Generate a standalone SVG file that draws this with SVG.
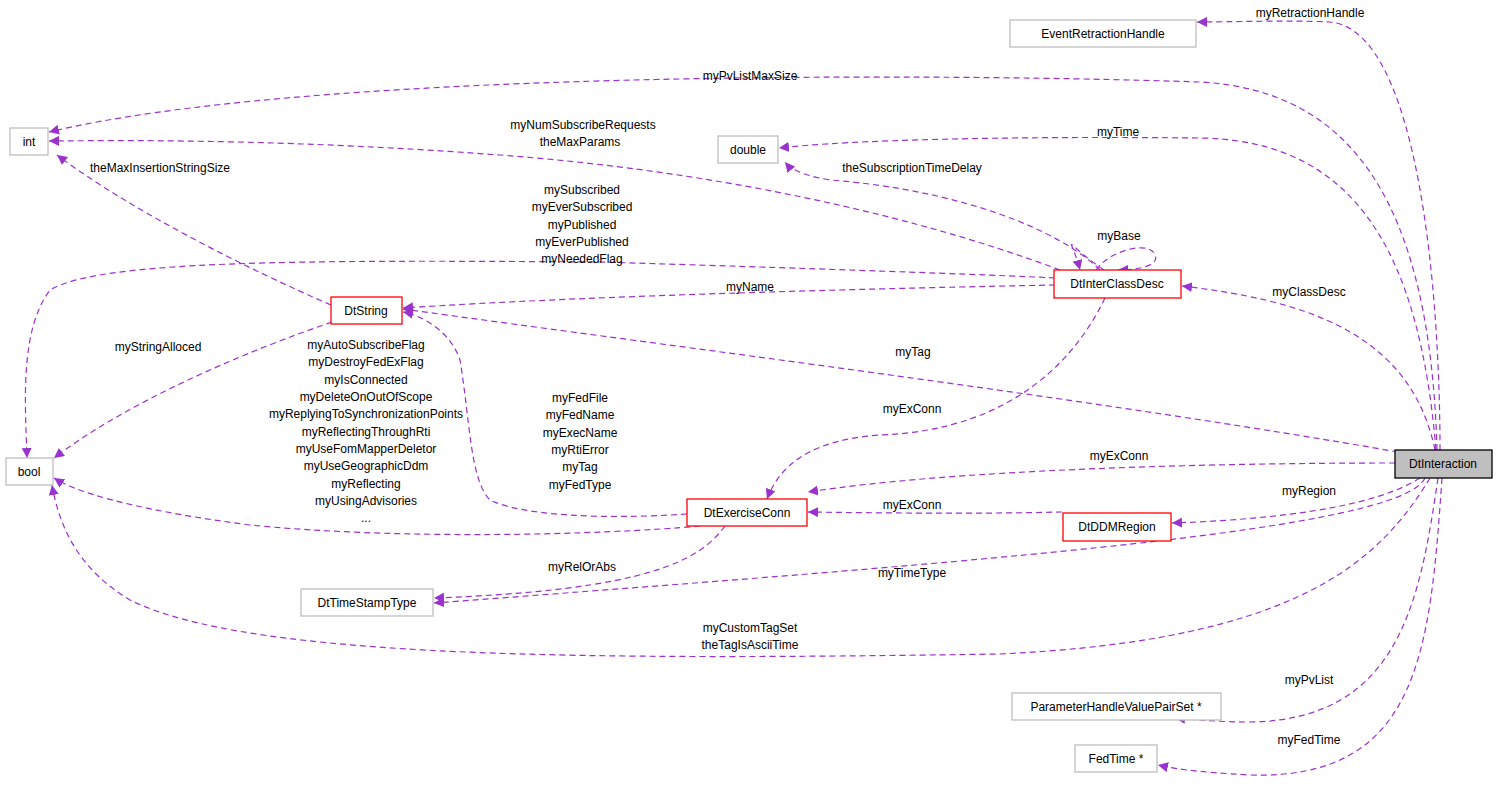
<svg xmlns="http://www.w3.org/2000/svg" width="1499" height="790" viewBox="0 0 1499 790">
<defs>
<marker id="a" viewBox="0 0 10 10" refX="10" refY="5" markerWidth="10" markerHeight="10" markerUnits="userSpaceOnUse" orient="auto"><path d="M0,0L10,5L0,10z" fill="#9a32cd"/></marker>
</defs>
<style>
.n{fill:#fff;stroke:#bfbfbf;stroke-width:1.3}
.r{fill:#fff;stroke:#ff0000;stroke-width:1.3}
.m{fill:#bfbfbf;stroke:#000;stroke-width:1.3}
text{font-family:"Liberation Sans",Arial,sans-serif;font-size:12px;fill:#000}
.t{text-anchor:middle}
#edges path{fill:none;stroke:#9a32cd;stroke-width:1.2;stroke-dasharray:6,4;marker-end:url(#a)}
</style>
<rect width="1499" height="790" fill="#fff"/>
<g id="edges">
<path d="M1440,450C1440,300 1420,30 1330,22C1290,20 1230,22 1197,22"/>
<path d="M1437,450C1430,200 1350,90 1200,82C900,72 300,72 49,132"/>
<path d="M1436,450C1420,260 1360,140 1200,138C1000,136 850,140 779,148"/>
<path d="M1435,450C1410,330 1300,300 1182,286"/>
<path d="M1398,452C1100,400 700,350 403,309"/>
<path d="M1395,463C1200,463 950,470 808,492"/>
<path d="M1420,478C1370,510 1260,520 1172,523"/>
<path d="M1425,478C1400,530 1000,560 434,603"/>
<path d="M1430,478C1380,560 1300,640 1000,654C600,660 250,660 130,600C80,570 60,530 52,485"/>
<path d="M1438,478C1420,600 1400,720 1250,722C1220,722 1200,720 1175,718"/>
<path d="M1442,478C1430,650 1420,780 1250,775C1200,772 1180,770 1158,765"/>
<path d="M1062,512C980,514 880,513 808,512"/>
<path d="M1105,298C1080,350 1020,430 880,435C810,440 780,465 767,499"/>
<path d="M1055,285C900,288 600,295 403,308"/>
<path d="M1055,278C1000,275 800,268 600,262C300,260 100,260 50,290C20,330 25,400 27,458"/>
<path d="M1060,270C900,210 700,170 500,155C300,140 150,140 49,141"/>
<path d="M1100,270C1060,230 960,190 830,180C800,175 790,168 785,162"/>
<path d="M1096,270C1110,250 1150,240 1155,255C1160,265 1140,270 1118,270"/>
<path d="M1104,270C1060,240 1070,232 1080,270"/>
<path d="M331,305C250,270 130,210 57,155"/>
<path d="M332,322C250,350 130,400 54,458"/>
<path d="M700,526C600,535 400,540 250,525C150,512 80,495 54,478"/>
<path d="M687,514C600,520 520,515 490,500C470,480 470,420 460,360C450,330 420,315 403,312"/>
<path d="M725,526C700,560 650,590 434,598"/>
</g>
<g id="EventRetractionHandle"><rect class="n" x="1010" y="20" width="186" height="27"/><text class="t" x="1103" y="38">EventRetractionHandle</text></g>
<g id="int"><rect class="n" x="10" y="128" width="38" height="27"/><text class="t" x="29" y="146">int</text></g>
<g id="double"><rect class="n" x="718" y="136" width="60" height="27"/><text class="t" x="748" y="154">double</text></g>
<g id="bool"><rect class="n" x="6" y="458" width="47" height="27"/><text class="t" x="29" y="476">bool</text></g>
<g id="DtString"><rect class="r" x="331" y="297" width="71" height="27"/><text class="t" x="366" y="315">DtString</text></g>
<g id="DtInterClassDesc"><rect class="r" x="1054" y="270" width="127" height="28"/><text class="t" x="1117" y="288">DtInterClassDesc</text></g>
<g id="DtInteraction"><rect class="m" x="1395" y="450" width="97" height="28"/><text class="t" x="1443" y="468">DtInteraction</text></g>
<g id="DtExerciseConn"><rect class="r" x="687" y="499" width="120" height="27"/><text class="t" x="747" y="517">DtExerciseConn</text></g>
<g id="DtDDMRegion"><rect class="r" x="1063" y="513" width="108" height="28"/><text class="t" x="1117" y="531">DtDDMRegion</text></g>
<g id="DtTimeStampType"><rect class="n" x="301" y="589" width="132" height="27"/><text class="t" x="367" y="607">DtTimeStampType</text></g>
<g id="ParameterHandleValuePairSet"><rect class="n" x="1012" y="693" width="209" height="27"/><text class="t" x="1116" y="711">ParameterHandleValuePairSet *</text></g>
<g id="FedTime"><rect class="n" x="1075" y="745" width="82" height="27"/><text class="t" x="1116" y="763">FedTime *</text></g>
<g id="labels">
<text class="t" x="1310" y="17">myRetractionHandle</text>
<text class="t" x="750" y="80">myPvListMaxSize</text>
<text class="t" x="1118" y="136">myTime</text>
<text class="t" x="583" y="129">myNumSubscribeRequests</text>
<text class="t" x="580" y="146">theMaxParams</text>
<text class="t" x="160" y="172">theMaxInsertionStringSize</text>
<text class="t" x="912" y="172">theSubscriptionTimeDelay</text>
<text class="t" x="582" y="194">mySubscribed</text>
<text class="t" x="582" y="211">myEverSubscribed</text>
<text class="t" x="582" y="229">myPublished</text>
<text class="t" x="582" y="246">myEverPublished</text>
<text class="t" x="582" y="263">myNeededFlag</text>
<text class="t" x="1119" y="240">myBase</text>
<text class="t" x="750" y="291">myName</text>
<text class="t" x="1309" y="296">myClassDesc</text>
<text class="t" x="158" y="351">myStringAlloced</text>
<text class="t" x="913" y="356">myTag</text>
<text class="t" x="366" y="349">myAutoSubscribeFlag</text>
<text class="t" x="366" y="366">myDestroyFedExFlag</text>
<text class="t" x="366" y="384">myIsConnected</text>
<text class="t" x="366" y="401">myDeleteOnOutOfScope</text>
<text class="t" x="366" y="418">myReplyingToSynchronizationPoints</text>
<text class="t" x="366" y="436">myReflectingThroughRti</text>
<text class="t" x="366" y="453">myUseFomMapperDeletor</text>
<text class="t" x="366" y="470">myUseGeographicDdm</text>
<text class="t" x="366" y="488">myReflecting</text>
<text class="t" x="366" y="505">myUsingAdvisories</text>
<text class="t" x="366" y="522">...</text>
<text class="t" x="580" y="402">myFedFile</text>
<text class="t" x="580" y="419">myFedName</text>
<text class="t" x="580" y="437">myExecName</text>
<text class="t" x="580" y="454">myRtiError</text>
<text class="t" x="580" y="471">myTag</text>
<text class="t" x="580" y="489">myFedType</text>
<text class="t" x="912" y="413">myExConn</text>
<text class="t" x="1119" y="460">myExConn</text>
<text class="t" x="912" y="509">myExConn</text>
<text class="t" x="1309" y="495">myRegion</text>
<text class="t" x="582" y="571">myRelOrAbs</text>
<text class="t" x="912" y="577">myTimeType</text>
<text class="t" x="750" y="632">myCustomTagSet</text>
<text class="t" x="750" y="649">theTagIsAsciiTime</text>
<text class="t" x="1309" y="684">myPvList</text>
<text class="t" x="1309" y="744">myFedTime</text>
</g>
</svg>
